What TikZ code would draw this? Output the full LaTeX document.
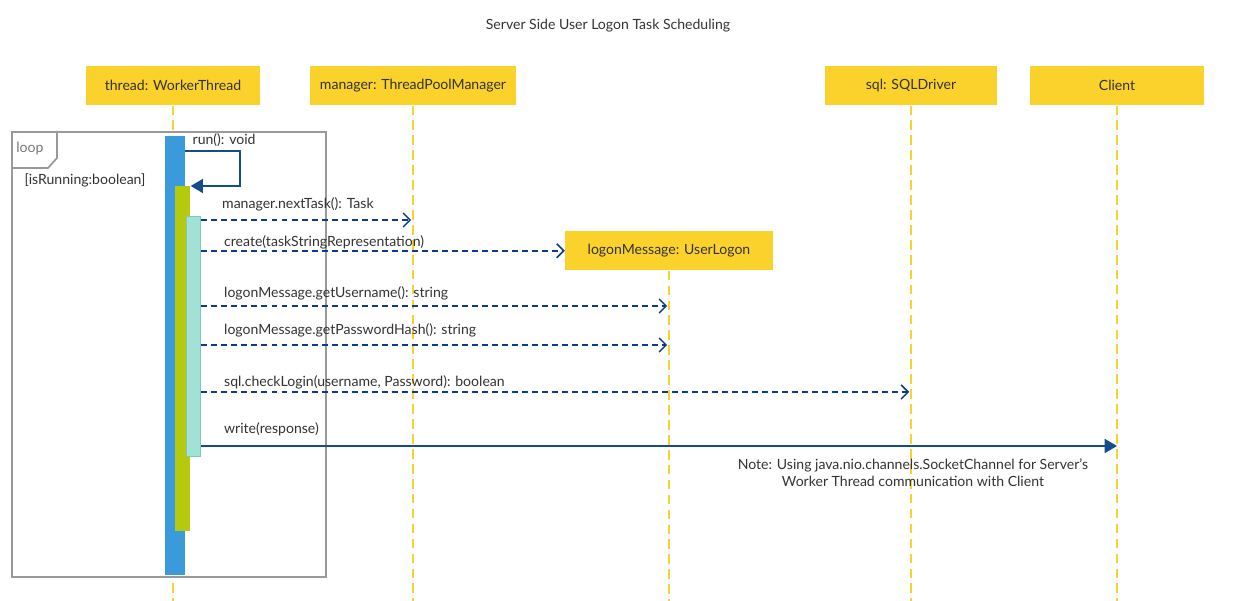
\documentclass[tikz,border=0pt]{standalone}
\usepackage{fontspec}
\setmainfont{Lato}
\usetikzlibrary{arrows.meta,positioning}
\definecolor{headyellow}{HTML}{FBD22C}
\definecolor{txt}{HTML}{333333}
\definecolor{framegray}{HTML}{999999}
\definecolor{runblue}{HTML}{3A9ADC}
\definecolor{loopgreen}{HTML}{B5CA0C}
\definecolor{taskteal}{HTML}{A2E2D6}
\definecolor{tealedge}{HTML}{7FC9B9}
\definecolor{callblue}{HTML}{0C3A8E}
\definecolor{sendblue}{HTML}{154D8C}

\begin{document}
\begin{tikzpicture}[x=0.02cm,y=-0.02cm,font=\fontsize{8}{9.5}\selectfont,text=txt,
	head/.style={fill=headyellow,minimum height=0.78cm,inner sep=0pt},
	life/.style={draw=headyellow,line width=1pt,dash pattern=on 5.5pt off 3pt},
	bar/.style={anchor=north west,inner sep=0pt},
	call/.style={draw=callblue,line width=0.9pt,dash pattern=on 3.4pt off 2.3pt,shorten >=1pt,-{Straight Barb[length=4pt,width=8pt]}},
	send/.style={draw=sendblue,line width=0.9pt,-{Triangle[length=7pt,width=8pt]}},
	msg/.style={anchor=base west,inner sep=0pt,xshift=0.44cm,yshift=#1}]
	\useasboundingbox (0,0) rectangle (1242,601);
	\node (title) at (608,26) {Server Side User Logon Task Scheduling};
	% lifeline heads
	\node[head,minimum width=3.5cm] (thread) at (173,85.7) {thread: WorkerThread};
	\node[head,minimum width=4.11cm] (manager) at (413,85.7) {manager: ThreadPoolManager};
	\node[head,minimum width=3.46cm] (sql) at (911,85.7) {sql: SQLDriver};
	\node[head,minimum width=3.48cm] (client) at (1117,85.7) {Client};
	\node[head,minimum width=4.15cm] (logon) at (669,250.8) {logonMessage: UserLogon};
	\coordinate (bottom) at (0,601);
	\foreach \h in {thread,manager,logon,sql,client}
		\draw[life] (\h.south) -- (\h.south |- bottom);
	% loop frame
	\node[draw=framegray,line width=1pt,fill=white,bar,minimum width=6.28cm,minimum height=8.9cm] (frame) at (11,131) {};
	\draw[framegray,line width=1pt] (11,168) -- (48,168) -- (57,158) -- (57,131);
	\node[text=framegray!80!black] (looplbl) at (30,149) {loop};
	\node (guard) at (85,180) {[isRunning:boolean]};
	% activations
	\node[bar,fill=runblue,minimum width=0.39cm,minimum height=8.78cm] (run) at (165,136) {};
	\node[bar,fill=loopgreen,minimum width=0.3cm,minimum height=6.9cm] (work) at (175,186) {};
	\node[bar,fill=taskteal,draw=tealedge,line width=0.8pt,minimum width=0.28cm,minimum height=4.8cm] (task) at (186,216) {};
	% self call
	\coordinate (s1) at (240,151);
	\draw[sendblue,line width=1pt,-{Triangle[length=7pt,width=8pt]}] (run.east |- s1) -- node[text=txt,anchor=base west,inner sep=0pt,pos=0.12,yshift=3.6pt] {run(): void} (s1) -- (s1 |- work.north) -- (work.north east);
	% messages
	\coordinate (m1) at (0,220);
	\coordinate (m3) at (0,306);
	\coordinate (m4) at (0,345);
	\coordinate (m5) at (0,392);
	\coordinate (m6) at (0,446);
	\path
		(task.east |- m1) edge[call] node[msg=6.6pt,at start,xshift=-0.04cm] {manager.nextTask(): Task} (manager |- m1)
		(task.east |- logon) edge[call,shorten >=0pt] node[msg=2.6pt,at start] {create(taskStringRepresentation)} (logon.west)
		(task.east |- m3) edge[call] node[msg=5pt,at start] {logonMessage.getUsername(): string} (logon |- m3)
		(task.east |- m4) edge[call] node[msg=6pt,at start] {logonMessage.getPasswordHash(): string} (logon |- m4)
		(task.east |- m5) edge[call] node[msg=3.4pt,at start] {sql.checkLogin(username, Password): boolean} (sql |- m5)
		(task.east |- m6) edge[send] node[msg=7.2pt,at start] {write(response)} (client |- m6);
	\node[align=center] (note) at (913,473) {Note: Using java.nio.channels.SocketChannel for Server's\\Worker Thread communication with Client};
\end{tikzpicture}
\end{document}
